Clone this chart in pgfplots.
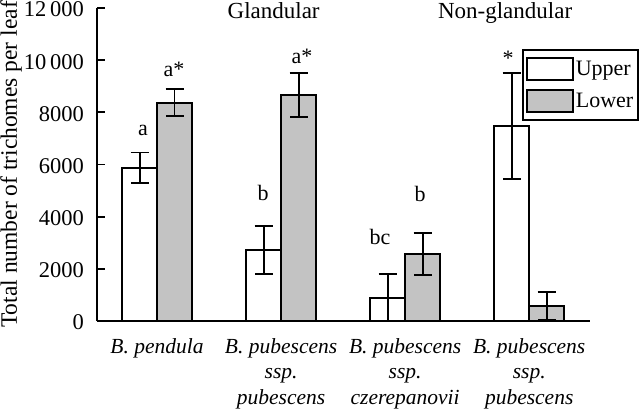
\documentclass[border=0pt]{standalone}
\usepackage{pgfplots}
\pgfplotsset{compat=1.18}
\usepackage{fontspec}
\setmainfont{Liberation Serif}
\definecolor{lowgray}{RGB}{195,195,195}
\begin{document}
\begin{tikzpicture}[font=\fontsize{22}{26}\selectfont]
\begin{axis}[name=ax, at={(0,0)}, anchor=south west,
  scale only axis, width=493pt, height=313pt, clip=false,
  xmin=-0.484, xmax=3.49, ymin=0, ymax=12000,
  axis lines=left, axis line style={-, line width=1.9pt},
  ytick={0,2000,4000,6000,8000,10000,12000},
  scaled y ticks=false,
  tick align=inside, major tick length=8pt,
  ytick style={line width=1.9pt, black},
  yticklabel style={font=\fontsize{22.5}{26}\selectfont, inner sep=0pt, xshift=-13pt, yshift=-1.5pt},
  xtick={0,1,2,3}, xtick style={draw=none},
  xticklabels={{B. pendula},{B. pubescens\\ssp.\\pubescens},{B. pubescens\\ssp.\\czerepanovii},{B. pubescens\\ssp.\\pubescens}},
  xticklabel style={align=center, font=\itshape\fontsize{21.5}{25.5}\selectfont, yshift=-14pt},
  /pgf/number format/assume math mode=true,
  /pgf/number format/1000 sep={\,},
  /pgf/number format/min exponent for 1000 sep=4,
  ylabel={Total number of trichomes per leaf},
  every axis y label/.style={at={(axis description cs:-0.1623,0.5)}, rotate=90, anchor=base, font=\fontsize{23.5}{28}\selectfont},
  legend style={at={(0.862,0.869)}, anchor=north west, draw=black, line width=1.9pt,
    font=\fontsize{22}{26}\selectfont, row sep=8pt, inner xsep=3pt, inner ysep=7pt},
  legend cell align=left,
  legend image code/.code={\draw[#1] (0pt,-11pt) rectangle (46pt,11pt);},
]
\addplot[ybar, bar width=0.282, bar shift=0, draw=black, fill=white, line width=1.9pt,
  error bars/.cd, y dir=both, y explicit,
  error bar style={line width=1.9pt, black},
  error mark options={rotate=90, mark size=9pt, line width=1.9pt, black}]
  coordinates {(-0.141,5870) +- (0,590) (0.859,2720) +- (0,920) (1.859,895) +- (0,900) (2.859,7480) +- (0,2040)};
\addlegendentry{Upper}
\addplot[ybar, bar width=0.282, bar shift=0, draw=black, fill=lowgray, line width=1.9pt,
  error bars/.cd, y dir=both, y explicit,
  error bar style={line width=1.9pt, black},
  error mark options={rotate=90, mark size=9pt, line width=1.9pt, black}]
  coordinates {(0.141,8370) +- (0,525) (1.141,8665) +- (0,830) (2.141,2570) +- (0,800) (3.141,575) +- (0,550)};
\addlegendentry{Lower}
\node[anchor=base] at (axis cs:-0.113,7130) {a};
\node[anchor=base] at (axis cs:0.137,9355) {a*};
\node[anchor=base] at (axis cs:0.855,4610) {b};
\node[anchor=base] at (axis cs:1.169,9890) {a*};
\node[anchor=base] at (axis cs:1.798,2915) {bc};
\node[anchor=base] at (axis cs:2.12,4575) {b};
\node[anchor=base] at (axis cs:2.83,9780) {*};
\node[anchor=base, font=\fontsize{23}{27}\selectfont] at (axis cs:0.94,11600) {Glandular};
\node[anchor=base, font=\fontsize{23}{27}\selectfont] at (axis cs:2.806,11600) {Non-glandular};
\end{axis}
\pgfresetboundingbox
\path[use as bounding box] ([shift={(-97pt,-90pt)}]ax.south west) rectangle ([shift={(543pt,321pt)}]ax.south west);
\end{tikzpicture}
\end{document}
